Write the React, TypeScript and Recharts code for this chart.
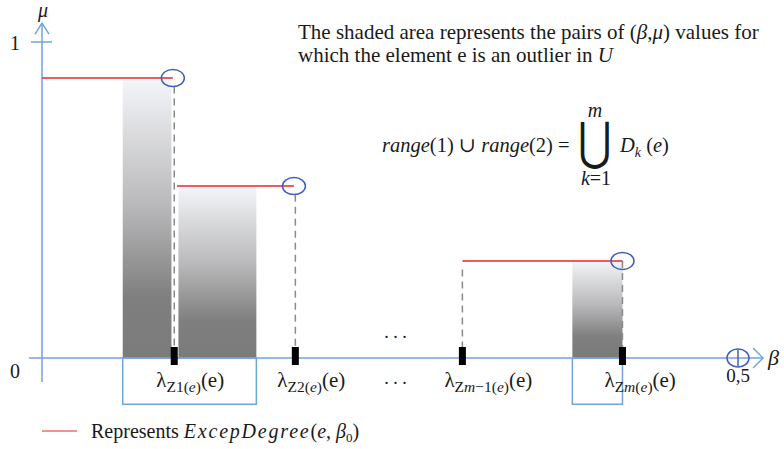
import {
  ComposedChart,
  XAxis,
  YAxis,
  ReferenceArea,
  ReferenceLine,
  ReferenceDot,
} from 'recharts'

const SERIF = '"Liberation Serif", "DejaVu Serif", serif'
const AXIS_BLUE = '#6fa5da'
const RING_BLUE = '#3f5fbf'
const DEGREE_RED = '#e8262b'
const DASH_GREY = '#8a8a8a'
const INK = '#1a1a1a'

// β positions of the λ_Zk(e) marks on the axis
const lambdaBeta = [0.095, 0.182, 0.302, 0.417]
const lambdaSub = ['Z1', 'Z2', 'Zm−1', 'Zm']
const gapBeta = 0.254
const halfBeta = 0.5

// ExcepDegree(e, β0) steps (red)
const degreeStart = [0, 0.097, 0.302]
const degreeEnd = [0.094, 0.181, 0.417]
const degreeLevel = [0.886, 0.544, 0.307]

// shaded (β, μ) regions
const shadeStart = [0.058, 0.098, 0.381]
const shadeEnd = [0.093, 0.154, 0.417]
const shadeTop = [0.88, 0.541, 0.307]

// blue brackets under the axis
const boxStart = [0.058, 0.381]
const boxEnd = [0.154, 0.417]
const boxDepth = -0.146

const axisData = lambdaBeta.map((b) => ({ beta: b }))

const BetaTick = (props: any) => {
  const { x, y, payload } = props
  const v = payload.value
  if (v === halfBeta) {
    return (
      <text x={x} y={y + 24} textAnchor="middle" fontFamily={SERIF} fontSize={19} fill={INK}>
        0,5
      </text>
    )
  }
  if (v === gapBeta) {
    return (
      <text x={x} y={y + 26} textAnchor="middle" fontFamily={SERIF} fontSize={18} fill={INK}>
        . . .
      </text>
    )
  }
  const i = lambdaBeta.indexOf(v)
  const sub = lambdaSub[i]
  return (
    <text x={x - 18} y={y + 29} fontFamily={SERIF} fontSize={21} fill={INK}>
      λ
      <tspan dy={5} fontSize={15.5}>
        {sub.startsWith('Zm') ? (
          <>
            Z<tspan fontStyle="italic">m</tspan>
            {sub.slice(2)}
          </>
        ) : (
          sub
        )}
        (<tspan fontStyle="italic">e</tspan>)
      </tspan>
      <tspan dy={-5}>(e)</tspan>
    </text>
  )
}

const MuTick = (props: any) => {
  const { x, y, payload } = props
  if (payload.value === 1) {
    return (
      <g>
        <line x1={x - 11} x2={x + 10} y1={y} y2={y} stroke={AXIS_BLUE} strokeWidth={1.5} />
        <text x={x - 27} y={y + 8} textAnchor="middle" fontFamily={SERIF} fontSize={20} fill={INK}>
          1
        </text>
      </g>
    )
  }
  return (
    <text x={x - 27} y={y + 20} textAnchor="middle" fontFamily={SERIF} fontSize={20} fill={INK}>
      0
    </text>
  )
}

const Ring = (props: any) => (
  <ellipse cx={props.cx} cy={props.cy} rx={11.5} ry={8.5} fill="none" stroke={RING_BLUE} strokeWidth={1.5} />
)

const Marker = (props: any) => <rect x={props.cx - 3.5} y={props.cy - 11} width={7} height={18} fill="#000" />

const HalfMark = (props: any) => (
  <g>
    <line x1={props.cx} x2={props.cx} y1={props.cy - 8} y2={props.cy + 8} stroke={RING_BLUE} strokeWidth={1.5} />
    <ellipse cx={props.cx} cy={props.cy} rx={11} ry={9} fill="none" stroke={RING_BLUE} strokeWidth={1.5} />
  </g>
)

const XArrow = (props: any) => (
  <g>
    <path
      d={`M${props.cx - 10},${props.cy - 10}L${props.cx},${props.cy}L${props.cx - 10},${props.cy + 10}`}
      fill="none"
      stroke={AXIS_BLUE}
      strokeWidth={1.5}
    />
    <text x={props.cx + 5} y={props.cy + 7} fontFamily={SERIF} fontStyle="italic" fontSize={22} fill={INK}>
      β
    </text>
  </g>
)

const YArrow = (props: any) => (
  <g>
    <path
      d={`M${props.cx - 7},${props.cy + 11}L${props.cx},${props.cy}L${props.cx + 7},${props.cy + 11}`}
      fill="none"
      stroke={AXIS_BLUE}
      strokeWidth={1.5}
    />
    <text x={props.cx + 1} y={props.cy - 6} textAnchor="middle" fontFamily={SERIF} fontStyle="italic" fontSize={20} fill={INK}>
      μ
    </text>
  </g>
)

const Annotations = () => (
  <svg width={784} height={449} style={{ position: 'absolute', left: 0, top: 0, pointerEvents: 'none' }}>
    <g fontFamily={SERIF} fontSize={21} fill={INK}>
      <text x={298} y={39}>
        The shaded area represents the pairs of (<tspan fontStyle="italic">β</tspan>,
        <tspan fontStyle="italic">μ</tspan>) values for
      </text>
      <text x={298} y={62}>
        which the element e is an outlier in <tspan fontStyle="italic">U</tspan>
      </text>

      <text x={382} y={152} fontSize={20.5}>
        <tspan fontStyle="italic">range</tspan>(1) ∪ <tspan fontStyle="italic">range</tspan>(2) =
      </text>
      <text
        transform="translate(595,159) scale(0.66,0.84)"
        textAnchor="middle"
        fontFamily='"DejaVu Serif", serif'
        fontSize={62}
      >
        ⋃
      </text>
      <text x={595} y={117} textAnchor="middle" fontStyle="italic" fontSize={20}>
        m
      </text>
      <text x={596} y={185} textAnchor="middle" fontSize={20}>
        <tspan fontStyle="italic">k</tspan>=1
      </text>
      <text x={620} y={152} fontSize={20.5}>
        <tspan fontStyle="italic">D</tspan>
        <tspan dy={5} fontSize={14} fontStyle="italic">k</tspan>
        <tspan dy={-5}> (</tspan>
        <tspan fontStyle="italic">e</tspan>)
      </text>

      <line x1={42} x2={77} y1={431} y2={431} stroke={DEGREE_RED} strokeWidth={1.2} />
      <text x={91} y={438} fontSize={20}>
        Represents <tspan fontStyle="italic" letterSpacing={1.8}>ExcepDegree</tspan>(<tspan fontStyle="italic">e</tspan>,{' '}
        <tspan fontStyle="italic">β</tspan>
        <tspan dy={4} fontSize={13}>0</tspan>
        <tspan dy={-4}>)</tspan>
      </text>
    </g>
  </svg>
)

export default function App() {
  return (
    <div style={{ position: 'absolute', left: 0, top: 0, width: 784, height: 449, background: '#fff' }}>
      <ComposedChart width={784} height={449} data={axisData} margin={{ top: 42, right: 46, left: 12, bottom: 61 }}>
        <defs>
          <linearGradient id="shade" x1="0" y1="0" x2="0" y2="1">
            <stop offset="0" stopColor="#f4f5f8" />
            <stop offset="0.45" stopColor="#b9b9bb" />
            <stop offset="0.78" stopColor="#7f7f7f" />
            <stop offset="1" stopColor="#7b7b7b" />
          </linearGradient>
        </defs>
        <XAxis
          dataKey="beta"
          type="number"
          domain={[0, halfBeta]}
          allowDataOverflow
          ticks={[...lambdaBeta, gapBeta, halfBeta]}
          interval={0}
          tick={<BetaTick />}
          tickLine={false}
          axisLine={false}
          tickSize={0}
          tickMargin={0}
          height={30}
        />
        <YAxis
          type="number"
          domain={[0, 1]}
          allowDataOverflow
          ticks={[0, 1]}
          interval={0}
          tick={<MuTick />}
          tickLine={false}
          axisLine={false}
          tickSize={0}
          tickMargin={0}
          width={30}
        />

        {shadeStart.map((s, i) => (
          <ReferenceArea key={`shade${i}`} x1={s} x2={shadeEnd[i]} y1={0} y2={shadeTop[i]} fill="url(#shade)" fillOpacity={1} stroke="none" ifOverflow="visible" />
        ))}

        {boxStart.map((s, i) => (
          <ReferenceArea key={`box${i}`} x1={s} x2={boxEnd[i]} y1={boxDepth} y2={0} fill="none" stroke={AXIS_BLUE} strokeWidth={1.5} ifOverflow="visible" />
        ))}

        {/* axes */}
        <ReferenceLine segment={[{ x: -0.0093, y: 0 }, { x: 0.518, y: 0 }]} stroke={AXIS_BLUE} strokeWidth={1.5} ifOverflow="visible" />
        <ReferenceLine segment={[{ x: 0, y: -0.076 }, { x: 0, y: 1.06 }]} stroke={AXIS_BLUE} strokeWidth={1.5} ifOverflow="visible" />
        <ReferenceDot x={0.518} y={0} shape={XArrow} ifOverflow="visible" />
        <ReferenceDot x={0} y={1.06} shape={YArrow} ifOverflow="visible" />

        {lambdaBeta.map((b, i) => (
          <ReferenceLine
            key={`dash${i}`}
            segment={[{ x: b, y: degreeLevel[Math.min(i, 2)] - (i === 3 ? 0 : 0.027) }, { x: b, y: 0.03 }]}
            stroke={DASH_GREY}
            strokeWidth={1.5}
            strokeDasharray="7 5"
            ifOverflow="visible"
          />
        ))}

        {degreeStart.map((s, i) => (
          <ReferenceLine key={`deg${i}`} segment={[{ x: s, y: degreeLevel[i] }, { x: degreeEnd[i], y: degreeLevel[i] }]} stroke={DEGREE_RED} strokeWidth={1.5} ifOverflow="visible" />
        ))}

        {degreeEnd.map((e, i) => (
          <ReferenceDot key={`ring${i}`} x={e} y={degreeLevel[i]} shape={Ring} ifOverflow="visible" />
        ))}

        {lambdaBeta.map((b, i) => (
          <ReferenceDot key={`mark${i}`} x={b} y={0} shape={Marker} ifOverflow="visible" />
        ))}
        <ReferenceDot x={halfBeta} y={0} shape={HalfMark} ifOverflow="visible" />
        <ReferenceDot
          x={gapBeta}
          y={0.063}
          ifOverflow="visible"
          shape={(p: any) => (
            <text x={p.cx} y={p.cy} textAnchor="middle" fontFamily={SERIF} fontSize={18} fill={INK}>
              . . .
            </text>
          )}
        />
      </ComposedChart>
      <Annotations />
    </div>
  )
}
